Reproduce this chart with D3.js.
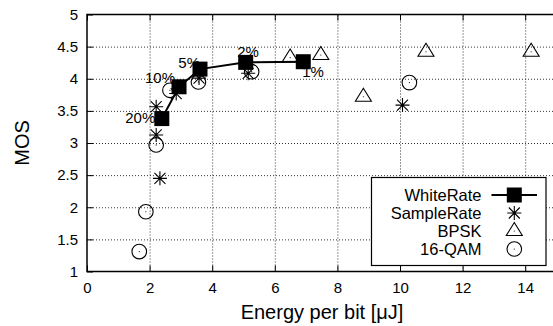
<!DOCTYPE html>
<html>
<head>
<meta charset="utf-8">
<script src="https://cdn.jsdelivr.net/npm/d3@7"></script>
<style>
  body { margin: 0; background: #fff; }
  svg { font-family: "Liberation Sans", Arial, Helvetica, sans-serif; }
  .grid line { stroke: #000; stroke-width: 0.8; stroke-dasharray: 1,2; }
  .grid path { display: none; }
  .ax path { display: none; }
  .ax line { stroke: #000; stroke-width: 1; }
  .ax text { font-size: 15px; fill: #000; }
</style>
</head>
<body>
<div class="chart"></div>
<script>
// chart values
var xTicks = [0, 2, 4, 6, 8, 10, 12, 14];
var yTicks = [1, 1.5, 2, 2.5, 3, 3.5, 4, 4.5, 5];

var whiteX = [2.39, 2.94, 3.61, 5.07, 6.91];
var whiteY = [3.38, 3.875, 4.15, 4.255, 4.265];
var whiteLabels = ['20%', '10%', '5%', '2%', '1%'];

var sampleX = [2.21, 2.21, 2.33, 2.85, 3.58, 5.15, 10.08];
var sampleY = [3.565, 3.125, 2.45, 3.77, 4.01, 4.085, 3.59];

var bpskX = [6.49, 7.47, 8.83, 10.83, 14.19];
var bpskY = [4.33, 4.37, 3.72, 4.42, 4.42];

var qamX = [1.67, 1.88, 2.21, 2.65, 3.56, 5.26, 10.30];
var qamY = [1.31, 1.93, 2.97, 3.82, 3.95, 4.11, 3.94];

var seriesNames = ['WhiteRate', 'SampleRate', 'BPSK', '16-QAM'];

// set up chart size
var svgWidth = 553;
var svgHeight = 326;
var margin = { top: 14.5, left: 87, bottom: 54.5 };
var width = 469.5;
var height = svgHeight - margin.top - margin.bottom;

var svg = d3.select('.chart')
  .append('svg')
  .attr('width', svgWidth)
  .attr('height', svgHeight);

var chart = svg.append('g')
  .attr('transform', `translate(${margin.left}, ${margin.top})`);

var x = d3.scaleLinear().domain([0, 15]).range([0, width]);
var y = d3.scaleLinear().domain([1, 5]).range([height, 0]);

function zip(xs, ys) {
  return xs.map(function(v, i) { return { x: v, y: ys[i] }; });
}

// dotted grid
chart.append('g').attr('class', 'grid')
  .attr('transform', `translate(0, ${height})`)
  .call(d3.axisBottom(x).tickValues(xTicks.slice(1)).tickSize(-height).tickFormat(''));
chart.append('g').attr('class', 'grid')
  .call(d3.axisLeft(y).tickValues(yTicks.slice(1, -1)).tickSize(-width).tickFormat(''));

// axes with inward ticks
chart.append('g').attr('class', 'ax')
  .attr('transform', `translate(0, ${height})`)
  .call(d3.axisBottom(x).tickValues(xTicks).tickSizeInner(-6).tickPadding(11).tickFormat(d3.format('d')));
chart.append('g').attr('class', 'ax')
  .call(d3.axisTop(x).tickValues(xTicks).tickSizeInner(-6).tickFormat(''));
chart.append('g').attr('class', 'ax')
  .call(d3.axisLeft(y).tickValues(yTicks).tickSizeInner(-6).tickPadding(9).tickFormat(d3.format('')));

// frame
chart.append('rect')
  .attr('width', width).attr('height', height)
  .attr('fill', 'none').attr('stroke', '#000').attr('stroke-width', 1.5);

// marker drawers
function asterisk(g, cx, cy) {
  var p = 'M' + (cx - 7) + ',' + cy + 'h14M' + cx + ',' + (cy - 7) + 'v14' +
    'M' + (cx - 5.5) + ',' + (cy - 5.5) + 'l11,11M' + (cx - 5.5) + ',' + (cy + 5.5) + 'l11,-11';
  g.append('path').attr('d', p).attr('stroke', '#000').attr('stroke-width', 1.1).attr('fill', 'none');
}
function triangle(g, cx, cy) {
  var p = 'M' + cx + ',' + (cy - 8.5) + 'L' + (cx + 8) + ',' + (cy + 4.5) + 'L' + (cx - 8) + ',' + (cy + 4.5) + 'Z';
  g.append('path').attr('d', p).attr('stroke', '#000').attr('stroke-width', 1.1).attr('fill', 'none');
  g.append('circle').attr('cx', cx).attr('cy', cy).attr('r', 0.6).attr('fill', '#000');
}
function ring(g, cx, cy) {
  g.append('circle').attr('cx', cx).attr('cy', cy).attr('r', 7.3)
    .attr('stroke', '#000').attr('stroke-width', 1.1).attr('fill', 'none');
  g.append('circle').attr('cx', cx).attr('cy', cy).attr('r', 0.6).attr('fill', '#000');
}
function square(g, cx, cy) {
  g.append('rect').attr('x', cx - 7.5).attr('y', cy - 7.5)
    .attr('width', 15).attr('height', 15).attr('fill', '#000');
}

var marks = chart.append('g');

// 16-QAM circles
zip(qamX, qamY).forEach(function(d) { ring(marks, x(d.x), y(d.y)); });
// SampleRate asterisks
zip(sampleX, sampleY).forEach(function(d) { asterisk(marks, x(d.x), y(d.y)); });
// BPSK triangles
zip(bpskX, bpskY).forEach(function(d) { triangle(marks, x(d.x), y(d.y)); });

// percentage labels (behind the squares)
var labelOffsets = [[-6.5, 4.7, 'end'], [-4, -3.4, 'end'], [0, -0.7, 'end'], [-8.4, -5.6, 'start'], [-1, 15, 'start']];
var white = zip(whiteX, whiteY);
marks.selectAll('.pct')
  .data(white)
  .enter()
  .append('text')
  .attr('class', 'pct')
  .attr('x', function(d, i) { return x(d.x) + labelOffsets[i][0]; })
  .attr('y', function(d, i) { return y(d.y) + labelOffsets[i][1]; })
  .attr('text-anchor', function(d, i) { return labelOffsets[i][2]; })
  .style('font-size', '15px')
  .text(function(d, i) { return whiteLabels[i]; });

// WhiteRate line and squares
var line = d3.line().x(function(d) { return x(d.x); }).y(function(d) { return y(d.y); });
marks.append('path').datum(white)
  .attr('d', line).attr('fill', 'none').attr('stroke', '#000').attr('stroke-width', 2);
white.forEach(function(d) { square(marks, x(d.x), y(d.y)); });

// legend
var legend = svg.append('g');
legend.append('rect')
  .attr('x', 371.5).attr('y', 177.5).attr('width', 174.5).attr('height', 88)
  .attr('fill', '#fff').attr('stroke', '#000').attr('stroke-width', 1.2);
var rowY = [195, 213, 231, 249];
seriesNames.forEach(function(name, i) {
  legend.append('text')
    .attr('x', 481.5).attr('y', rowY[i] + 6)
    .attr('text-anchor', 'end')
    .style('font-size', '16.5px')
    .text(name);
});
legend.append('path').attr('d', 'M491.5,' + rowY[0] + 'H537')
  .attr('stroke', '#000').attr('stroke-width', 2);
square(legend, 514.3, rowY[0]);
asterisk(legend, 514.3, rowY[1]);
triangle(legend, 514.3, rowY[2]);
ring(legend, 514.3, rowY[3]);

// axis labels
svg.append('text')
  .attr('x', 322).attr('y', 319)
  .attr('text-anchor', 'middle')
  .style('font-size', '20px')
  .text('Energy per bit [\u03BCJ]');

svg.append('text')
  .attr('transform', 'translate(29, 143) rotate(-90)')
  .attr('text-anchor', 'middle')
  .style('font-size', '20px')
  .text('MOS');
</script>
</body>
</html>
